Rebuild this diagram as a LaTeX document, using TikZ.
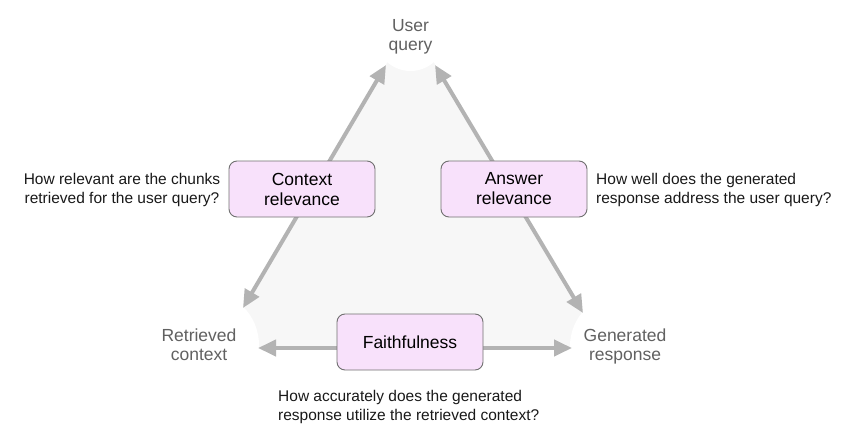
\documentclass[tikz,border=0pt]{standalone}
\usepackage{fontspec}
\setmainfont{Liberation Sans}
\usetikzlibrary{arrows.meta}
\definecolor{arrowgrey}{HTML}{B3B3B3}
\definecolor{trifill}{HTML}{F7F7F7}
\definecolor{boxfill}{HTML}{F8E1FB}
\definecolor{boxline}{HTML}{707070}
\definecolor{labelgrey}{HTML}{616161}
\tikzset{
  conn/.style={draw=arrowgrey, line width=4pt, {Triangle[length=18pt,width=16pt]}-{Triangle[length=18pt,width=16pt]}},
  metricbox/.style={draw=boxline, line width=0.9pt, fill=boxfill, rounded corners=8pt,
    minimum width=146pt, minimum height=56pt, align=center, inner sep=0pt,
    font=\fontsize{17.5}{20}\selectfont},
  cornerlabel/.style={align=center, text=labelgrey, inner sep=0pt, font=\fontsize{17.5}{19}\selectfont},
  question/.style={inner sep=0pt, font=\fontsize{15.5}{19}\selectfont, text=black!90}
}
\begin{document}
\begin{tikzpicture}[x=1pt,y=-1pt]
\useasboundingbox (0,0) rectangle (855,442);
% background triangle
\fill[trifill] (410.5,23) -- (219.5,348) -- (603,348) -- cycle;
% white holes at corners
\fill[white] (410.5,36) circle (35);
\fill[white] (205,345) circle (54);
\fill[white] (622,346) circle (52);
% corner labels
\node[cornerlabel] (query) at (410.5,37) {User\\query};
\node[cornerlabel] (retrieved) at (199,345) {Retrieved\\context};
\node[cornerlabel] (generated) at (625,346) {Generated\\response};
% connector end points
\coordinate (qL) at (386,65);
\coordinate (rT) at (243,308);
\coordinate (qR) at (435,65);
\coordinate (gT) at (583,313);
\coordinate (rR) at (258,348);
\coordinate (gL) at (572,348);
\draw[conn] (rT) -- (qL);
\draw[conn] (gT) -- (qR);
\draw[conn] (rR) -- (gL);
% metric boxes
\node[metricbox] (ctx) at (302,189) {Context\\relevance};
\node[metricbox] (ans) at (514,189) {Answer\\relevance};
\node[metricbox] (faith) at (410,342) {Faithfulness};
% questions
\node[question, align=center] (q1) at (122,190) {How relevant are the chunks\\retrieved for the user query?};
\node[question, align=left, anchor=west] (q2) at (596,190) {How well does the generated\\response address the user query?};
\node[question, align=left, anchor=west] (q3) at (278,407) {How accurately does the generated\\response utilize the retrieved context?};
\end{tikzpicture}
\end{document}
